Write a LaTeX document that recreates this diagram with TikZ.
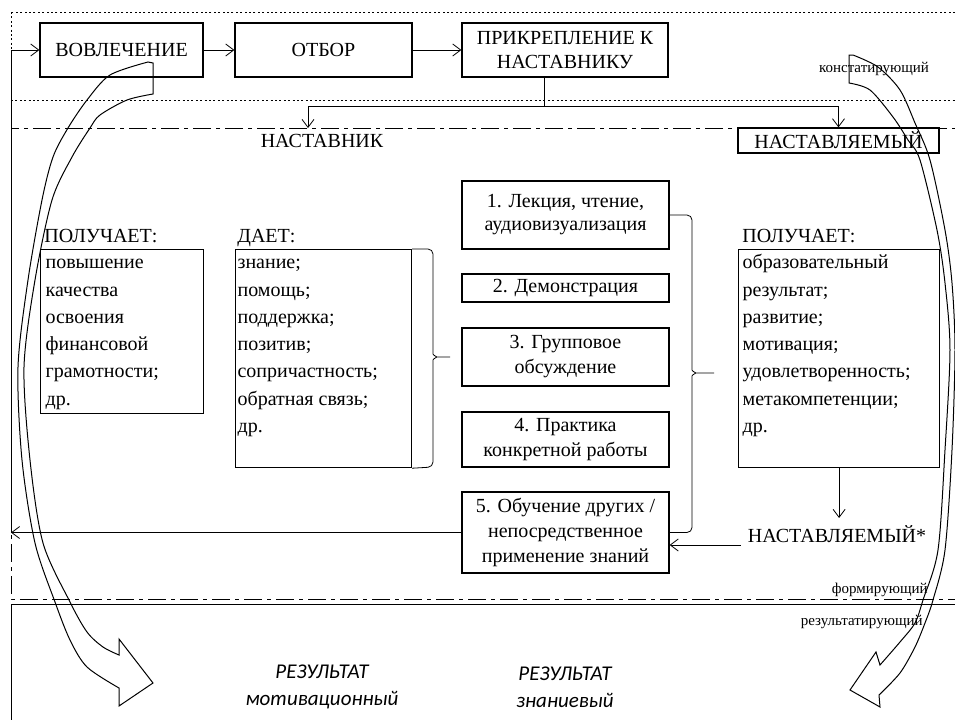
\documentclass[tikz,border=0pt]{standalone}
\usepackage{fontspec}
\setmainfont{Liberation Serif}
\newfontfamily\calibrifont{Carlito}
\usetikzlibrary{arrows.meta}

\begin{document}
\begin{tikzpicture}[x=0.5pt,y=-0.5pt,
	every node/.style={font=\fontsize{10}{12.5}\selectfont},
	box/.style={draw,line width=0.6pt,align=center,inner sep=0pt},
	listbox/.style={draw,line width=0.6pt,anchor=north west,inner ysep=0pt,font=\fontsize{10}{13.65}\selectfont},
	lbl/.style={anchor=base west,inner sep=0pt},
	smalllbl/.style={inner sep=0pt,font=\fontsize{7.5}{9}\selectfont},
	resnode/.style={align=center,font=\calibrifont\itshape\fontsize{10.5}{13.5}\selectfont},
	arr/.style={-{Straight Barb[length=4pt,width=6pt]}},
	dotline/.style={line width=0.5pt,dash pattern=on 1pt off 1.2pt},
	dashdotline/.style={line width=0.5pt,dash pattern=on 9pt off 2.5pt on 2pt off 2.5pt},
	band/.style={line width=0.5pt,line join=miter}]
	\useasboundingbox (0,0) rectangle (955,719);
	\draw[dotline] (11,12) rectangle (1000,100);
	\draw[dashdotline] (11,128) rectangle (1000,599);
	\draw[line width=0.5pt] (11,604) rectangle (1000,760);

	\node[box,minimum width=81.5pt,minimum height=27pt] (vovl) at (121.5,50) {ВОВЛЕЧЕНИЕ};
	\node[box,minimum width=88.5pt,minimum height=27pt] (otbor) at (323.5,50) {ОТБОР};
	\node[box,minimum width=103pt,minimum height=27pt,font=\fontsize{10}{12}\selectfont] (prikr) at (565,50) {ПРИКРЕПЛЕНИЕ К\\НАСТАВНИКУ};

	\node[anchor=base] (nastavnik) at (322,147) {НАСТАВНИК};
	\node[box,minimum width=100.5pt,minimum height=12.5pt] (nastavl) at (838.5,140.5) {НАСТАВЛЯЕМЫЙ};

	\node[lbl] (pol1) at (44,242) {ПОЛУЧАЕТ:};
	\node[listbox,inner xsep=2.5pt] (pol1box) at (40,249) {\parbox[t][82pt][t]{76.5pt}{\strut повышение\\качества\\освоения\\финансовой\\грамотности;\\др.}};
	\node[lbl] (daet) at (237,242) {ДАЕТ:};
	\node[listbox,inner xsep=1pt] (daetbox) at (235,249) {\parbox[t][109pt][t]{86pt}{\strut знание;\\помощь;\\поддержка;\\позитив;\\сопричастность;\\обратная связь;\\др.}};
	\node[lbl] (pol2) at (742,242) {ПОЛУЧАЕТ:};
	\node[listbox,inner xsep=2pt] (pol2box) at (738,249) {\parbox[t][109pt][t]{96.5pt}{\strut образовательный\\результат;\\развитие;\\мотивация;\\удовлетворенность;\\метакомпетенции;\\др.}};

	\node[box,minimum width=103.5pt,minimum height=34pt,font=\fontsize{10}{11.5}\selectfont] (m1) at (565.5,215) {1. Лекция, чтение,\\аудиовизуализация};
	\node[box,minimum width=103.5pt,minimum height=14pt] (m2) at (565.5,288) {2. Демонстрация};
	\node[box,minimum width=103.5pt,minimum height=29pt] (m3) at (565.5,357) {3. Групповое\\обсуждение};
	\node[box,minimum width=103.5pt,minimum height=27.5pt] (m4) at (565.5,439.5) {4. Практика\\конкретной работы};
	\node[box,minimum width=103.5pt,minimum height=40.5pt] (m5) at (565.5,532.5) {5. Обучение других /\\непосредственное\\применение знаний};

	\node[anchor=base] (nastavl2) at (837,542) {НАСТАВЛЯЕМЫЙ*};

	\node[smalllbl,anchor=base] (konst) at (874,72) {констатирующий};
	\node[smalllbl,anchor=base east] (form) at (928,593) {формирующий};
	\node[smalllbl,anchor=base east] (rezt) at (923,625) {результатирующий};

	\node[resnode] (res1) at (322,687) {РЕЗУЛЬТАТ\\мотивационный};
	\node[resnode] (res2) at (565,687) {РЕЗУЛЬТАТ\\знаниевый};

	\coordinate (fbt) at (11,50);
	\coordinate (fbb) at (11,532.5);
	\coordinate (sp) at (544,106);
	\coordinate (toL) at (308,128);
	\draw[arr] (m5.west) -- (fbb);
	\draw[arr] (fbb) -- (fbt) -- (vovl.west);
	\draw[arr] (vovl) -- (otbor);
	\draw[arr] (otbor) -- (prikr);
	\draw (prikr.south -| sp) -- (sp);
	\draw[arr] (sp) -| (toL);
	\draw[arr] (sp) -| (nastavl.north);
	\draw[arr] (pol2box.south) -- (pol2box.south |- nastavl2.north);
	\draw[arr] ([yshift=-1.5pt]nastavl2.base west) -- ([yshift=-1.5pt]nastavl2.base west -| m5.east);

	\draw[rounded corners=2.5pt] (daetbox.north east) -- (433,249) -- (433,349) .. controls (433,355) and (437,357) .. (442,357) -- (453,357) -- (442,357) .. controls (437,357) and (433,359) .. (433,365) -- (433,467) -- (daetbox.south east);
	\draw[rounded corners=2.5pt] (m1.east) -- (692,215) -- (692,365) .. controls (692,371) and (696,373) .. (701,373) -- (717,373) -- (701,373) .. controls (696,373) and (692,375) .. (692,381) -- (692,532.5) -- (m5.east);

	\draw[band] plot[smooth] coordinates {(148,62) (110,75) (87,100) (68,128) (53,157) (42,200) (28,280) (18,367) (22,460) (35,543) (55,602) (70,640) (87,667) (119,688)}
		-- (119,706) -- (153,683) -- (119,639)
		-- plot[smooth] coordinates {(119,655) (103,647) (87,632) (70,602) (43,543) (30,460) (24,367) (35,280) (52,200) (72,157) (90,128) (100,115) (127,100) (153,94)}
		-- (153,63) -- cycle;
	\draw[band] plot[smooth] coordinates {(853,55) (878,67) (900,90) (915,123) (930,160) (945,230) (952,283) (955,350) (952,450) (945,550) (933,600) (925,623) (915,647) (900,673) (879,695)}
		-- (880,707) -- (850,690) -- (876,652)
		-- plot[smooth] coordinates {(880,665) (900,642) (915,623) (923,600) (938,550) (945,450) (950,350) (945,283) (937,230) (920,160) (908,140) (893,117) (870,90) (849,83)}
		-- (849,55) -- cycle;
\end{tikzpicture}
\end{document}
